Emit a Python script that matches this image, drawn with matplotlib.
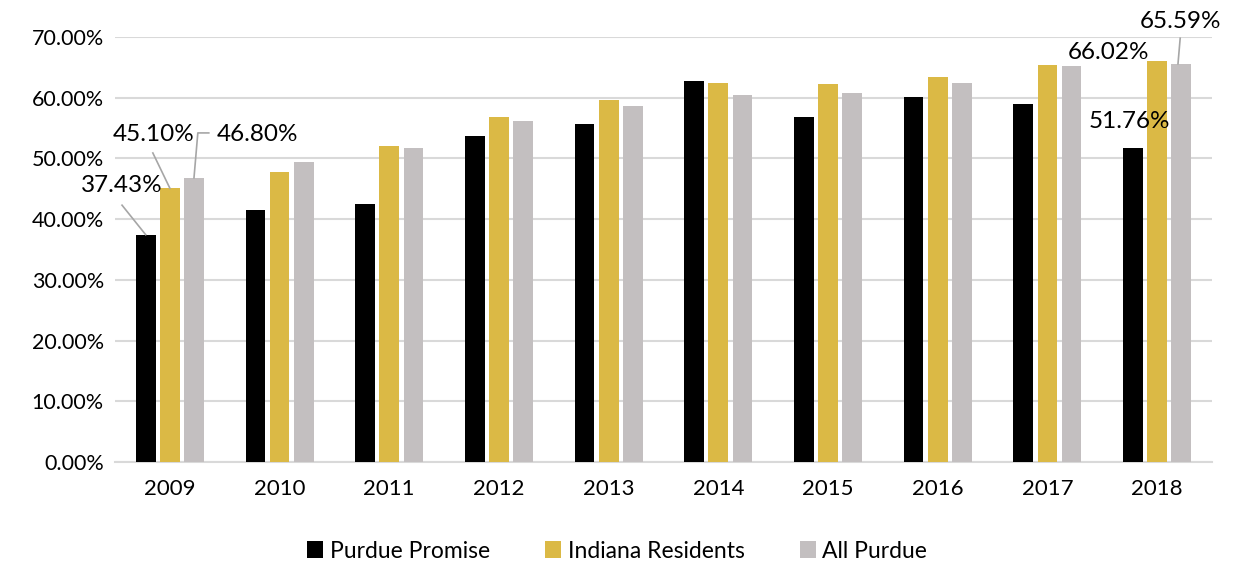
import numpy as np
import matplotlib
matplotlib.use("Agg")
import matplotlib.pyplot as plt
import matplotlib.ticker as ticker

# データ
years = ["2009", "2010", "2011", "2012", "2013", "2014", "2015", "2016", "2017", "2018"]
purdue_promise = [37.43, 41.5, 42.5, 53.7, 55.6, 62.7, 56.8, 60.1, 59.0, 51.76]
indiana_residents = [45.10, 47.8, 52.1, 56.9, 59.6, 62.4, 62.3, 63.4, 65.4, 66.02]
all_purdue = [46.80, 49.4, 51.7, 56.1, 58.6, 60.5, 60.7, 62.4, 65.2, 65.59]

series_names = ["Purdue Promise", "Indiana Residents", "All Purdue"]
colors = ["#000000", "#dbb945", "#c3bfc0"]

plt.rcParams['font.family'] = ['Lato', 'DejaVu Sans']

def main():
    fig = plt.figure(figsize=(12.34, 5.65), dpi=100)
    ax = fig.add_axes([115 / 1234, 1 - 462 / 565, (1212 - 115) / 1234, (462 - 37) / 565])

    x = np.arange(len(years))
    w = 0.18
    step = 0.22
    data = [purdue_promise, indiana_residents, all_purdue]
    bars = []
    for i, (vals, name, c) in enumerate(zip(data, series_names, colors)):
        b = ax.bar(x + (i - 1) * step, vals, width=w, color=c, label=name, zorder=3)
        bars.append(b)

    ax.set_xlim(-0.5, len(years) - 0.5)
    ax.set_ylim(0, 70)
    ax.yaxis.set_major_locator(ticker.MultipleLocator(10))
    ax.yaxis.set_major_formatter(ticker.FuncFormatter(lambda v, p: f"{v:.2f}%"))
    ax.set_xticks(x)
    ax.set_xticklabels(years)
    ax.tick_params(axis="both", length=0, colors="#000000")
    ax.tick_params(axis="x", pad=12, labelsize=16)
    ax.tick_params(axis="y", pad=8, labelsize=15.5)
    ax.grid(axis="y", color="#d9d9d9", linewidth=1.5, zorder=0)
    for s in ["top", "right", "left"]:
        ax.spines[s].set_visible(False)
    ax.spines["bottom"].set_color("#d9d9d9")
    ax.spines["bottom"].set_linewidth(1.5)

    # データラベル（2009 と 2018 のみ）
    lc = "#a6a6a6"
    fs = 17.5
    lab = dict(fontsize=fs, ha="center", va="center", zorder=5, clip_on=False)

    # 2009
    ax.text(-0.44, 45.6, f"{purdue_promise[0]:.2f}%", **lab)
    ax.plot([x[0] - step, -0.436], [purdue_promise[0], 42.3], color=lc, lw=1.2, zorder=4)
    ax.text(-0.15, 53.9, f"{indiana_residents[0]:.2f}%", **lab)
    ax.plot([x[0], -0.155], [indiana_residents[0], 50.9], color=lc, lw=1.2, zorder=4)
    ax.text(0.80, 53.9, f"{all_purdue[0]:.2f}%", **lab)
    ax.plot([x[0] + step, 0.255, 0.355], [all_purdue[0], 54.2, 54.2], color=lc, lw=1.2, zorder=4)

    # 2018
    ax.text(8.745, 56.0, f"{purdue_promise[9]:.2f}%", **lab)
    ax.text(8.555, 67.5, f"{indiana_residents[9]:.2f}%", **lab)
    ax.text(9.21, 72.5, f"{all_purdue[9]:.2f}%", **lab)
    ax.plot([x[9] + step - 0.03, x[9] + step - 0.01], [all_purdue[9], 69.8], color=lc, lw=1.2,
            zorder=4, clip_on=False)

    fig.legend(handles=bars, labels=series_names, loc="center", bbox_to_anchor=(0.5, 1 - 551 / 565),
               ncol=3, frameon=False, fontsize=16.5, handlelength=0.7, handleheight=0.7,
               handletextpad=0.3, columnspacing=2.4)

    fig.savefig("out.png", dpi=100)

if __name__ == "__main__":
    main()
